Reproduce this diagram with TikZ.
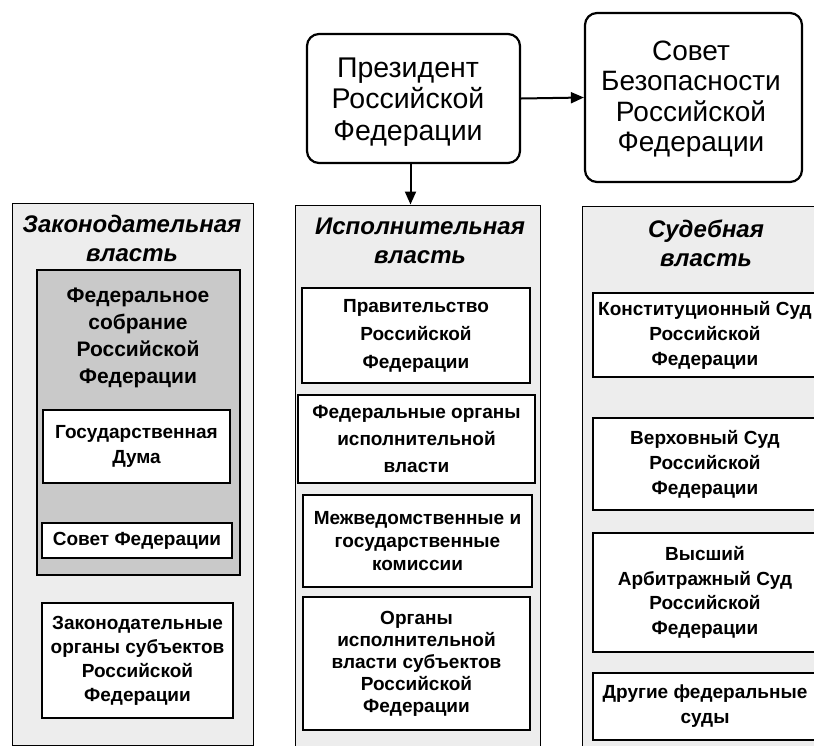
\documentclass[tikz,border=0pt]{standalone}
\usepackage{fontspec}
\setmainfont{Liberation Sans}
\usetikzlibrary{arrows.meta}
\begin{document}
\begin{tikzpicture}[x=1pt,y=-1pt,
  topbox/.style={draw, line width=2.2pt, rounded corners=12pt, fill=white, inner sep=0pt},
  toptext/.style={align=center, font=\fontsize{28.5}{31.5}\selectfont, inner sep=0pt},
  colbox/.style={draw, line width=1pt, fill=gray!14, inner sep=0pt},
  ibox/.style={draw, line width=2.6pt, fill=white, align=center,
    font=\bfseries\fontsize{19}{25}\selectfont, inner sep=0pt},
  ttl/.style={align=center, font=\bfseries\itshape\fontsize{24}{29}\selectfont, inner sep=0pt},
  arr/.style={line width=2pt, -{Triangle[length=13pt,width=11pt]}}
]
\useasboundingbox (0,0) rectangle (814,745);
\clip (0,0) rectangle (814,745);
\fill[white] (0,0) rectangle (814,745);

% top boxes
\node[topbox, minimum width=213pt, minimum height=129pt] (pres) at (413.5,98.5) {};
\node[toptext] (prest) at (408,102) {Президент\\Российской\\Федерации};
\node[topbox, minimum width=217pt, minimum height=169pt] (sov) at (693.5,97.5) {};
\node[toptext, font=\fontsize{28}{30.5}\selectfont] (sovt) at (691,99) {Совет\\Безопасности\\Российской\\Федерации};

% columns
\node[colbox, minimum width=241pt, minimum height=542pt] (leg) at (132.5,474) {};
\node[colbox, minimum width=245pt, minimum height=542pt] (exe) at (417.5,476) {};
\node[colbox, minimum width=250pt, minimum height=542pt] (jud) at (707,477) {};

% titles
\node[ttl] (legt) at (132,238) {Законодательная\\власть};
\node[ttl] (exet) at (420,241) {Исполнительная\\власть};
\node[ttl] (judt) at (706,243) {Судебная\\власть};

% legislative
\node[draw, line width=2.6pt, fill=gray!42, minimum width=203pt, minimum height=305pt, inner sep=0pt] (fa) at (138.5,422.5) {};
\node[align=center, font=\bfseries\fontsize{21}{27}\selectfont, inner sep=0pt] (fat) at (138,338)
  {Федеральное\\собрание\\Российской\\Федерации};
\node[ibox, minimum width=187pt, minimum height=73pt] (gd) at (136.5,446.5) {Государственная\\Дума};
\node[ibox, minimum width=190pt, minimum height=35pt] (sf) at (137,540.5) {Совет Федерации};
\node[ibox, font=\bfseries\fontsize{19}{24}\selectfont, minimum width=191pt, minimum height=115pt] (zo) at (137.5,660.5)
  {Законодательные\\органы субъектов\\Российской\\Федерации};

% executive
\node[ibox, font=\bfseries\fontsize{19}{28}\selectfont, minimum width=228pt, minimum height=95pt] (gov) at (416,335.5)
  {Правительство\\Российской\\Федерации};
\node[ibox, font=\bfseries\fontsize{19}{27}\selectfont, minimum width=237pt, minimum height=88pt] (foi) at (416.5,439)
  {Федеральные органы\\исполнительной\\власти};
\node[ibox, font=\bfseries\fontsize{19}{23}\selectfont, minimum width=229pt, minimum height=92pt] (mgk) at (417.5,541)
  {Межведомственные и\\государственные\\комиссии};
\node[ibox, font=\bfseries\fontsize{19}{22}\selectfont, minimum width=227pt, minimum height=133pt] (oiv) at (416.5,663.5)
  {Органы\\исполнительной\\власти субъектов\\Российской\\Федерации};

% judicial
\node[ibox, minimum width=224pt, minimum height=84pt] (ks) at (705,335)
  {Конституционный Суд\\Российской\\Федерации};
\node[ibox, minimum width=224pt, minimum height=92pt] (vs) at (705,464)
  {Верховный Суд\\Российской\\Федерации};
\node[ibox, font=\bfseries\fontsize{19}{24.5}\selectfont, minimum width=224pt, minimum height=119pt] (vas) at (705,592.5)
  {Высший\\Арбитражный Суд\\Российской\\Федерации};
\node[ibox, minimum width=224pt, minimum height=67pt] (dfs) at (705,706.5)
  {Другие федеральные\\суды};

% connectors
\draw[arr] (pres.east) -- (sov.west);
\draw[arr] ([xshift=-3pt]pres.south) -- ([xshift=-3pt]pres.south |- exe.north);
\end{tikzpicture}
\end{document}
